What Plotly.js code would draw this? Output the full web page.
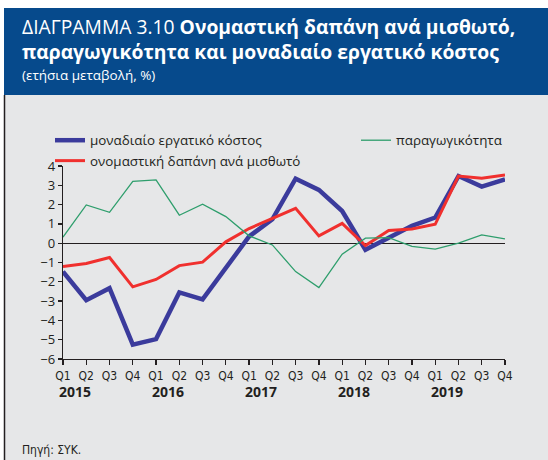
<!DOCTYPE html>
<html>
<head>
<meta charset="utf-8">
<script src="https://cdn.plot.ly/plotly-3.0.1.min.js"></script>
<style>html,body{margin:0;padding:0;background:#fff;}#chart{width:548px;height:460px;}</style>
</head>
<body>
<div id="chart"></div>
<script>
// Quarters 2015Q1 .. 2019Q4
const quarters = ['Q1','Q2','Q3','Q4','Q1','Q2','Q3','Q4','Q1','Q2','Q3','Q4','Q1','Q2','Q3','Q4','Q1','Q2','Q3','Q4'];
const years = ['2015','2016','2017','2018','2019'];
const unitLabourCost = [-1.47,-2.95,-2.33,-5.26,-4.97,-2.55,-2.91,-1.3,0.35,1.24,3.34,2.76,1.67,-0.34,0.31,0.9,1.33,3.48,2.93,3.31];
const compPerEmployee = [-1.21,-1.05,-0.74,-2.26,-1.88,-1.16,-0.98,0.07,0.76,1.29,1.81,0.38,1.03,-0.12,0.66,0.74,0.98,3.48,3.36,3.53];
const productivity = [0.31,1.98,1.6,3.2,3.28,1.45,2.02,1.38,0.38,-0.09,-1.47,-2.3,-0.57,0.26,0.29,-0.17,-0.31,0.0,0.43,0.22];

const names = ['μοναδιαίο εργατικό κόστος','ονομαστική δαπάνη ανά μισθωτό','παραγωγικότητα'];
const titleLine1 = 'ΔΙΑΓΡΑΜΜΑ 3.10 <b>Ονομαστική δαπάνη ανά μισθωτό,</b>';
const titleLine2 = '<b>παραγωγικότητα και μοναδιαίο εργατικό κόστος</b>';
const subtitle = '(ετήσια μεταβολή, %)';
const source = 'Πηγή: ΣΥΚ.';

const W = 548, H = 460;
const M = {l: 63, r: 43, t: 166, b: 101};
const PW = W - M.l - M.r, PH = H - M.t - M.b;
const px = v => (v - M.l) / PW;
const py = v => (H - M.b - v) / PH;

const idx = quarters.map((q, i) => i);

const traces = [
  {x: idx, y: unitLabourCost, name: names[0], type: 'scatter', mode: 'lines',
   line: {color: '#3b3b9c', width: 4.5}, legend: 'legend'},
  {x: idx, y: compPerEmployee, name: names[1], type: 'scatter', mode: 'lines',
   line: {color: '#f0302e', width: 3}, legend: 'legend'},
  {x: idx, y: productivity, name: names[2], type: 'scatter', mode: 'lines',
   line: {color: '#2e9e6c', width: 1.3}, legend: 'legend2'}
];

const baseFont = '"Open Sans", "Noto Sans", "DejaVu Sans", sans-serif';
const narrowFont = '"Liberation Sans Narrow", "DejaVu Sans Condensed", "Open Sans", sans-serif';

const annotations = years.map((y, i) => ({
  x: 4 * i + 0.5, xref: 'x', y: py(391), yref: 'paper',
  text: '<b>' + y + '</b>', showarrow: false, xanchor: 'center', yanchor: 'middle',
  font: {family: baseFont, size: 14, color: '#231f20'}
}));
annotations.push({
  x: px(20), xref: 'paper', y: py(39.5), yref: 'paper', xanchor: 'left', yanchor: 'middle',
  text: titleLine1 + '<br>' + titleLine2, showarrow: false, align: 'left',
  font: {family: baseFont, size: 19.3, color: '#ffffff'}
});
annotations.push({
  x: px(20), xref: 'paper', y: py(75), yref: 'paper', xanchor: 'left', yanchor: 'middle',
  text: subtitle, showarrow: false,
  font: {family: baseFont, size: 13.5, color: '#ffffff'}
});
annotations.push({
  x: px(20), xref: 'paper', y: py(450), yref: 'paper', xanchor: 'left', yanchor: 'middle',
  text: source, showarrow: false,
  font: {family: narrowFont, size: 12, color: '#231f20'}
});

const shapes = [
  {type: 'rect', xref: 'paper', yref: 'paper', x0: px(4), x1: px(548), y0: py(95), y1: py(460),
   fillcolor: '#e6e7e8', line: {width: 0}, layer: 'below'},
  {type: 'rect', xref: 'paper', yref: 'paper', x0: px(4), x1: px(548), y0: py(8), y1: py(95),
   fillcolor: '#064a8c', line: {width: 0}, layer: 'below'},
  {type: 'line', xref: 'paper', yref: 'paper', x0: px(4.5), x1: px(4.5), y0: py(95), y1: py(460),
   line: {color: '#231f20', width: 1.5}, layer: 'below'}
];

const layout = {
  width: W, height: H,
  margin: M,
  paper_bgcolor: '#ffffff',
  plot_bgcolor: 'rgba(0,0,0,0)',
  showlegend: true,
  xaxis: {
    range: [0, 19], tickmode: 'array', tickvals: idx, ticktext: quarters,
    showline: true, linecolor: '#231f20', linewidth: 1.3,
    ticks: 'outside', ticklen: 5, tickcolor: '#231f20', tickwidth: 1.3,
    showgrid: false, zeroline: false,
    tickfont: {family: narrowFont, size: 12, color: '#231f20'}, fixedrange: true
  },
  yaxis: {
    range: [-6, 4], dtick: 1, tick0: 0,
    showline: true, linecolor: '#231f20', linewidth: 1.3,
    ticks: 'outside', ticklen: 4, tickcolor: '#231f20', tickwidth: 1.3,
    showgrid: false, zeroline: true, zerolinecolor: '#231f20', zerolinewidth: 1.2,
    tickfont: {family: baseFont, size: 13, color: '#231f20'}, fixedrange: true
  },
  legend: {
    x: px(50), xref: 'paper', y: py(125), yref: 'paper', xanchor: 'left', yanchor: 'top',
    orientation: 'v', bgcolor: 'rgba(0,0,0,0)', traceorder: 'normal',
    font: {family: baseFont, size: 13.4, color: '#231f20'}, tracegroupgap: 0
  },
  legend2: {
    x: px(356), xref: 'paper', y: py(125), yref: 'paper', xanchor: 'left', yanchor: 'top',
    orientation: 'v', bgcolor: 'rgba(0,0,0,0)',
    font: {family: baseFont, size: 13.4, color: '#231f20'}
  },
  annotations: annotations,
  shapes: shapes
};

Plotly.newPlot('chart', traces, layout, {displayModeBar: false, staticPlot: true});
</script>
</body>
</html>
